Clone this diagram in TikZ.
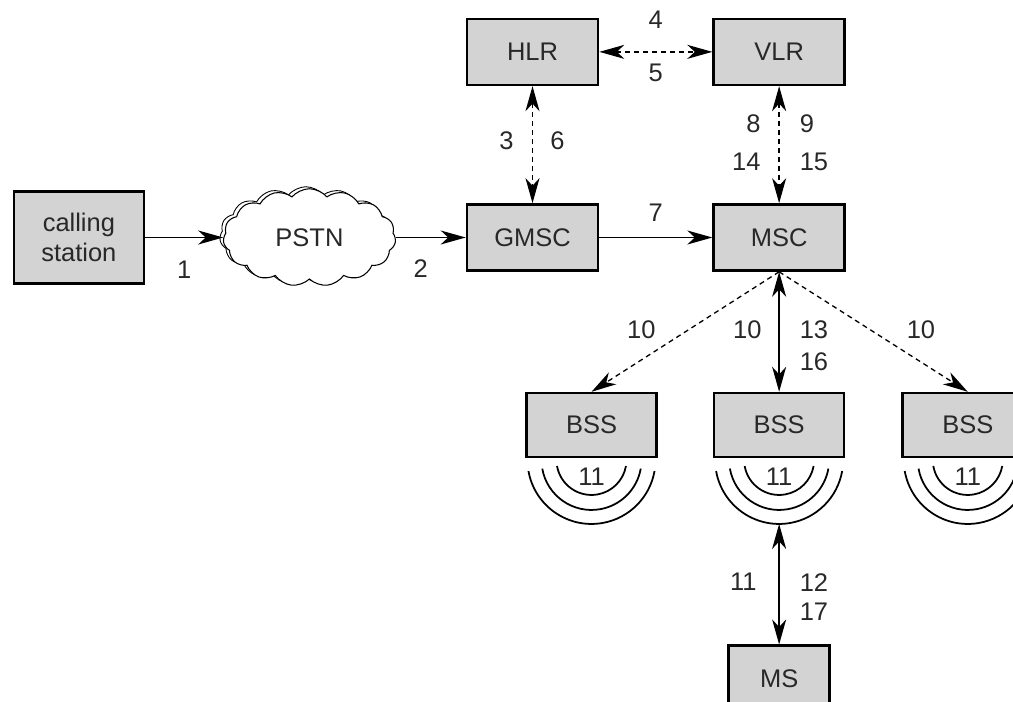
\documentclass[tikz,border=0pt]{standalone}
\usepackage{fontspec}
\setmainfont{Liberation Sans}
\usetikzlibrary{arrows.meta,positioning,shapes.symbols}
\definecolor{boxgray}{RGB}{211,211,211}
\definecolor{ink}{RGB}{40,40,40}

\begin{document}
\begin{tikzpicture}[
    font=\fontsize{14.5}{17}\selectfont, text=ink,
    box/.style={draw=black, line width=1.5pt, fill=boxgray, align=center, inner sep=3pt, minimum width=2.62cm, minimum height=1.32cm},
    net/.style={cloud, cloud puffs=15, cloud puff arc=100, aspect=1.8, draw, fill=white, line width=0.6pt, minimum width=3.45cm, minimum height=1.95cm,
      preaction={draw, line width=0.5pt, transform canvas={shift={(-0.07,0.04)}}}},
    arrow/.style={-{Stealth[length=5mm, width=2.8mm, inset=1.5mm]}, line width=0.75pt},
    twoway/.style={{Stealth[length=5mm, width=2.8mm, inset=1.5mm]}-{Stealth[length=5mm, width=2.8mm, inset=1.5mm]}, line width=0.75pt},
    signal/.style={dash pattern=on 1mm off 0.8mm},
    lbl/.style={inner sep=0pt},
    wave/.style={line width=1pt}
  ]
    \useasboundingbox (0,0) rectangle (20.26,-14.04);

    \node[box] (gmsc) at (10.65,-4.75) {GMSC};
    \node[box, right=2.26cm of gmsc] (msc) {MSC};
    \node[box, above=2.34cm of gmsc] (hlr) {HLR};
    \node[box, above=2.34cm of msc] (vlr) {VLR};
    \node[net, left=1.4cm of gmsc] (pstn) {PSTN};
    \node[box, minimum width=2.6cm, minimum height=1.84cm, left=1.56cm of pstn] (calling) {calling\\station};
    \node[box, minimum width=2.6cm, minimum height=1.28cm, below=2.4cm of msc] (bss2) {BSS};
    \node[box, minimum width=2.6cm, minimum height=1.28cm, left=1.1cm of bss2] (bss1) {BSS};
    \node[box, minimum width=2.6cm, minimum height=1.28cm, right=1.12cm of bss2] (bss3) {BSS};
    \node[box, minimum width=2.02cm, minimum height=1.32cm, below=3.72cm of bss2] (ms) {MS};

    % radio waves under each BSS
    \foreach \b in {bss1,bss2,bss3} {
      \foreach \r in {0.7,1.0,1.28}
        \draw[wave] ([yshift=-0.03cm]\b.south) ++(190:\r) arc[start angle=190, end angle=350, radius=\r];
      \node[lbl] (\b-air) at ([yshift=-0.36cm]\b.south) {11};
    }
    \coordinate (air) at ([yshift=-1.31cm]bss2.south);

    \draw[arrow] (calling) -- node[lbl, yshift=-0.64cm] (n1) {1} (pstn);
    \draw[arrow] (pstn) -- node[lbl, xshift=-0.2cm, yshift=-0.62cm] (n2) {2} (gmsc);
    \draw[arrow] (gmsc) -- node[lbl, yshift=0.5cm] (n7) {7} (msc);
    \draw[twoway, signal] (hlr) -- node[lbl, yshift=0.64cm] (n4) {4} node[lbl, yshift=-0.42cm] (n5) {5} (vlr);
    \draw[twoway, signal] (hlr) -- node[lbl, xshift=-0.52cm, yshift=0.07cm] (n3) {3} node[lbl, xshift=0.5cm, yshift=0.07cm] (n6) {6} (gmsc);
    \draw[twoway, signal] (vlr) --
      node[lbl, anchor=east, xshift=-0.36cm, yshift=0.42cm] (n8) {8}
      node[lbl, anchor=east, xshift=-0.36cm, yshift=-0.34cm] (n14) {14}
      node[lbl, anchor=west, xshift=0.4cm, yshift=0.42cm] (n9) {9}
      node[lbl, anchor=west, xshift=0.4cm, yshift=-0.34cm] (n15) {15} (msc);
    \draw[arrow, signal] (msc.south) -- node[lbl, xshift=-0.88cm, yshift=0.04cm] (n10a) {10} (bss1.north);
    \draw[arrow, signal] (msc.south) -- node[lbl, xshift=0.95cm, yshift=0.04cm] (n10c) {10} (bss3.north);
    \draw[twoway] (msc) --
      node[lbl, anchor=east, xshift=-0.34cm, yshift=0.04cm] (n10b) {10}
      node[lbl, anchor=west, xshift=0.4cm, yshift=0.04cm] (n13) {13}
      node[lbl, anchor=west, xshift=0.4cm, yshift=-0.6cm] (n16) {16} (bss2);
    \draw[twoway] (air) --
      node[lbl, anchor=east, xshift=-0.44cm, yshift=0.04cm] (n11) {11}
      node[lbl, anchor=west, xshift=0.4cm, yshift=0.04cm] (n12) {12}
      node[lbl, anchor=west, xshift=0.4cm, yshift=-0.56cm] (n17) {17} (ms);
  \end{tikzpicture}
\end{document}
